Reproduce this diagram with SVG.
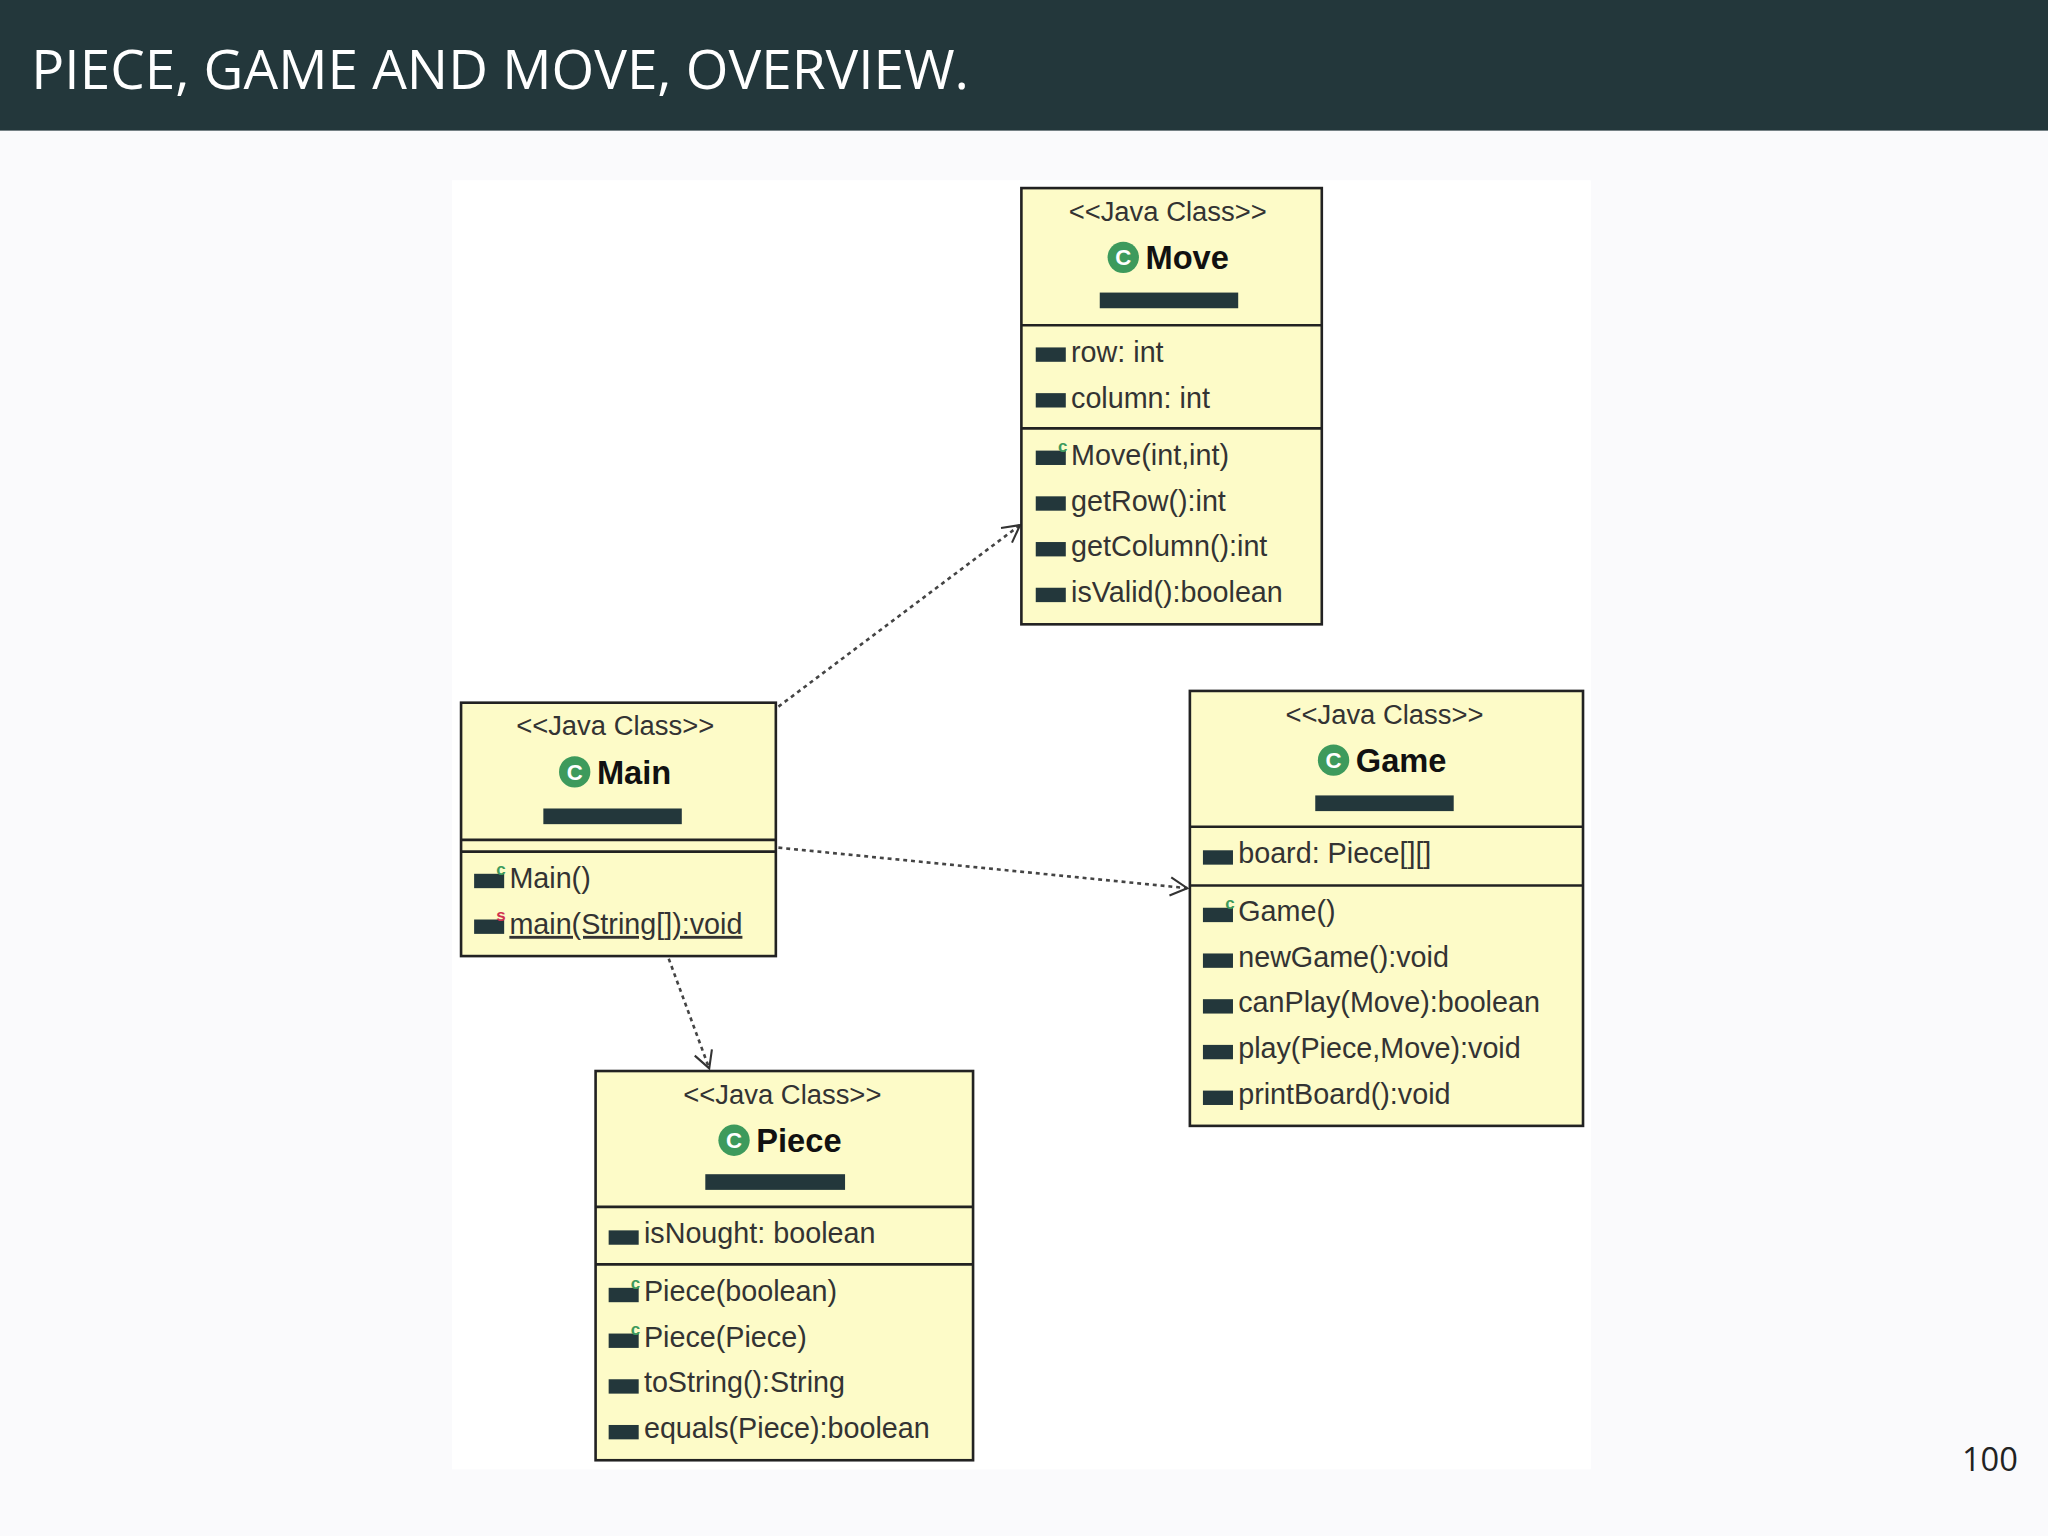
<svg xmlns="http://www.w3.org/2000/svg" width="2048" height="1536" viewBox="0 0 2048 1536">
<style>
.box{fill:#fdfbc8;stroke:#222;stroke-width:2}
.div{stroke:#222;stroke-width:2}
.st{font-family:"Liberation Sans",Arial,sans-serif;font-size:21px;fill:#333;text-anchor:middle}
.nm{font-family:"Liberation Sans",Arial,sans-serif;font-size:25px;font-weight:bold;fill:#111}
.mb{font-family:"Liberation Sans",Arial,sans-serif;font-size:22px;fill:#333}
.bar{fill:#23373b}
.ic{fill:#23373b}
.ci{fill:#3d9a5c}
.ct{font-family:"Liberation Sans",Arial,sans-serif;font-size:17px;font-weight:bold;fill:#fff;text-anchor:middle}
.sup{font-family:"Liberation Sans",Arial,sans-serif;font-size:13px;font-weight:bold}
.con{fill:none;stroke:#444;stroke-width:2;stroke-dasharray:3 3}
</style>
<defs>
<marker id="arr" markerWidth="16" markerHeight="16" refX="14" refY="8" orient="auto" markerUnits="userSpaceOnUse">
<path d="M1,1 L14,8 L1,15" fill="none" stroke="#333" stroke-width="1.6"/>
</marker>
</defs>
<rect width="2048" height="1536" fill="#fafafc"/>
<g transform="scale(1.30612)">
<rect x="0" y="0" width="1568" height="100" fill="#23373b"/>
<text x="24" y="68" font-family="Open Sans, sans-serif" font-size="42" fill="#fff">PIECE, GAME AND MOVE, OVERVIEW.</text>
<text x="1545" y="1126" font-family="Open Sans, sans-serif" font-size="25" fill="#222" text-anchor="end">100</text>
<rect x="346" y="138" width="872" height="987" fill="#fff"/>

<g id="connectors">
<line class="con" x1="596" y1="541" x2="781" y2="402" marker-end="url(#arr)"/>
<line class="con" x1="596" y1="649" x2="909" y2="680" marker-end="url(#arr)"/>
<line class="con" x1="512" y1="734" x2="543" y2="818" marker-end="url(#arr)"/>
</g>

<g id="move">
<rect class="box" x="782" y="144" width="230" height="334"/>
<line class="div" x1="782" y1="249" x2="1012" y2="249"/>
<line class="div" x1="782" y1="328" x2="1012" y2="328"/>
<text class="st" x="894" y="169">&lt;&lt;Java Class&gt;&gt;</text>
<circle class="ci" cx="860" cy="197" r="12"/><text class="ct" x="860" y="203">C</text>
<text class="nm" x="877" y="206">Move</text>
<rect class="bar" x="842" y="224" width="106" height="12"/>
<rect class="ic" x="793" y="266" width="23" height="11"/><text class="mb" x="820" y="277">row: int</text>
<rect class="ic" x="793" y="301" width="23" height="11"/><text class="mb" x="820" y="312">column: int</text>
<rect class="ic" x="793" y="345" width="23" height="11"/><text class="sup" x="810" y="346" fill="#3d9a5c">c</text><text class="mb" x="820" y="356">Move(int,int)</text>
<rect class="ic" x="793" y="380" width="23" height="11"/><text class="mb" x="820" y="391">getRow():int</text>
<rect class="ic" x="793" y="415" width="23" height="11"/><text class="mb" x="820" y="426">getColumn():int</text>
<rect class="ic" x="793" y="450" width="23" height="11"/><text class="mb" x="820" y="461">isValid():boolean</text>
</g>

<g id="main">
<rect class="box" x="353" y="538" width="241" height="194"/>
<line class="div" x1="353" y1="643" x2="594" y2="643"/>
<line class="div" x1="353" y1="652" x2="594" y2="652"/>
<text class="st" x="471" y="563">&lt;&lt;Java Class&gt;&gt;</text>
<circle class="ci" cx="440" cy="591" r="12"/><text class="ct" x="440" y="597">C</text>
<text class="nm" x="457" y="600">Main</text>
<rect class="bar" x="416" y="619" width="106" height="12"/>
<rect class="ic" x="363" y="669" width="23" height="11"/><text class="sup" x="380" y="670" fill="#3d9a5c">c</text><text class="mb" x="390" y="680">Main()</text>
<rect class="ic" x="363" y="704" width="23" height="11"/><text class="sup" x="380" y="705" fill="#d0304f">s</text><text class="mb" x="390" y="715" text-decoration="underline">main(String[]):void</text>
</g>

<g id="game">
<rect class="box" x="911" y="529" width="301" height="333"/>
<line class="div" x1="911" y1="633" x2="1212" y2="633"/>
<line class="div" x1="911" y1="678" x2="1212" y2="678"/>
<text class="st" x="1060" y="554">&lt;&lt;Java Class&gt;&gt;</text>
<circle class="ci" cx="1021" cy="582" r="12"/><text class="ct" x="1021" y="588">C</text>
<text class="nm" x="1038" y="591">Game</text>
<rect class="bar" x="1007" y="609" width="106" height="12"/>
<rect class="ic" x="921" y="651" width="23" height="11"/><text class="mb" x="948" y="661">board: Piece[][]</text>
<rect class="ic" x="921" y="695" width="23" height="11"/><text class="sup" x="938" y="696" fill="#3d9a5c">c</text><text class="mb" x="948" y="705">Game()</text>
<rect class="ic" x="921" y="730" width="23" height="11"/><text class="mb" x="948" y="740">newGame():void</text>
<rect class="ic" x="921" y="765" width="23" height="11"/><text class="mb" x="948" y="775">canPlay(Move):boolean</text>
<rect class="ic" x="921" y="800" width="23" height="11"/><text class="mb" x="948" y="810">play(Piece,Move):void</text>
<rect class="ic" x="921" y="835" width="23" height="11"/><text class="mb" x="948" y="845">printBoard():void</text>
</g>

<g id="piece">
<rect class="box" x="456" y="820" width="289" height="298"/>
<line class="div" x1="456" y1="924" x2="745" y2="924"/>
<line class="div" x1="456" y1="968" x2="745" y2="968"/>
<text class="st" x="599" y="845">&lt;&lt;Java Class&gt;&gt;</text>
<circle class="ci" cx="562" cy="873" r="12"/><text class="ct" x="562" y="879">C</text>
<text class="nm" x="579" y="882">Piece</text>
<rect class="bar" x="540" y="899" width="107" height="12"/>
<rect class="ic" x="466" y="942" width="23" height="11"/><text class="mb" x="493" y="952">isNought: boolean</text>
<rect class="ic" x="466" y="986" width="23" height="11"/><text class="sup" x="483" y="987" fill="#3d9a5c">c</text><text class="mb" x="493" y="996">Piece(boolean)</text>
<rect class="ic" x="466" y="1021" width="23" height="11"/><text class="sup" x="483" y="1022" fill="#3d9a5c">c</text><text class="mb" x="493" y="1031">Piece(Piece)</text>
<rect class="ic" x="466" y="1056" width="23" height="11"/><text class="mb" x="493" y="1066">toString():String</text>
<rect class="ic" x="466" y="1091" width="23" height="11"/><text class="mb" x="493" y="1101">equals(Piece):boolean</text>
</g>
</g>
</svg>
